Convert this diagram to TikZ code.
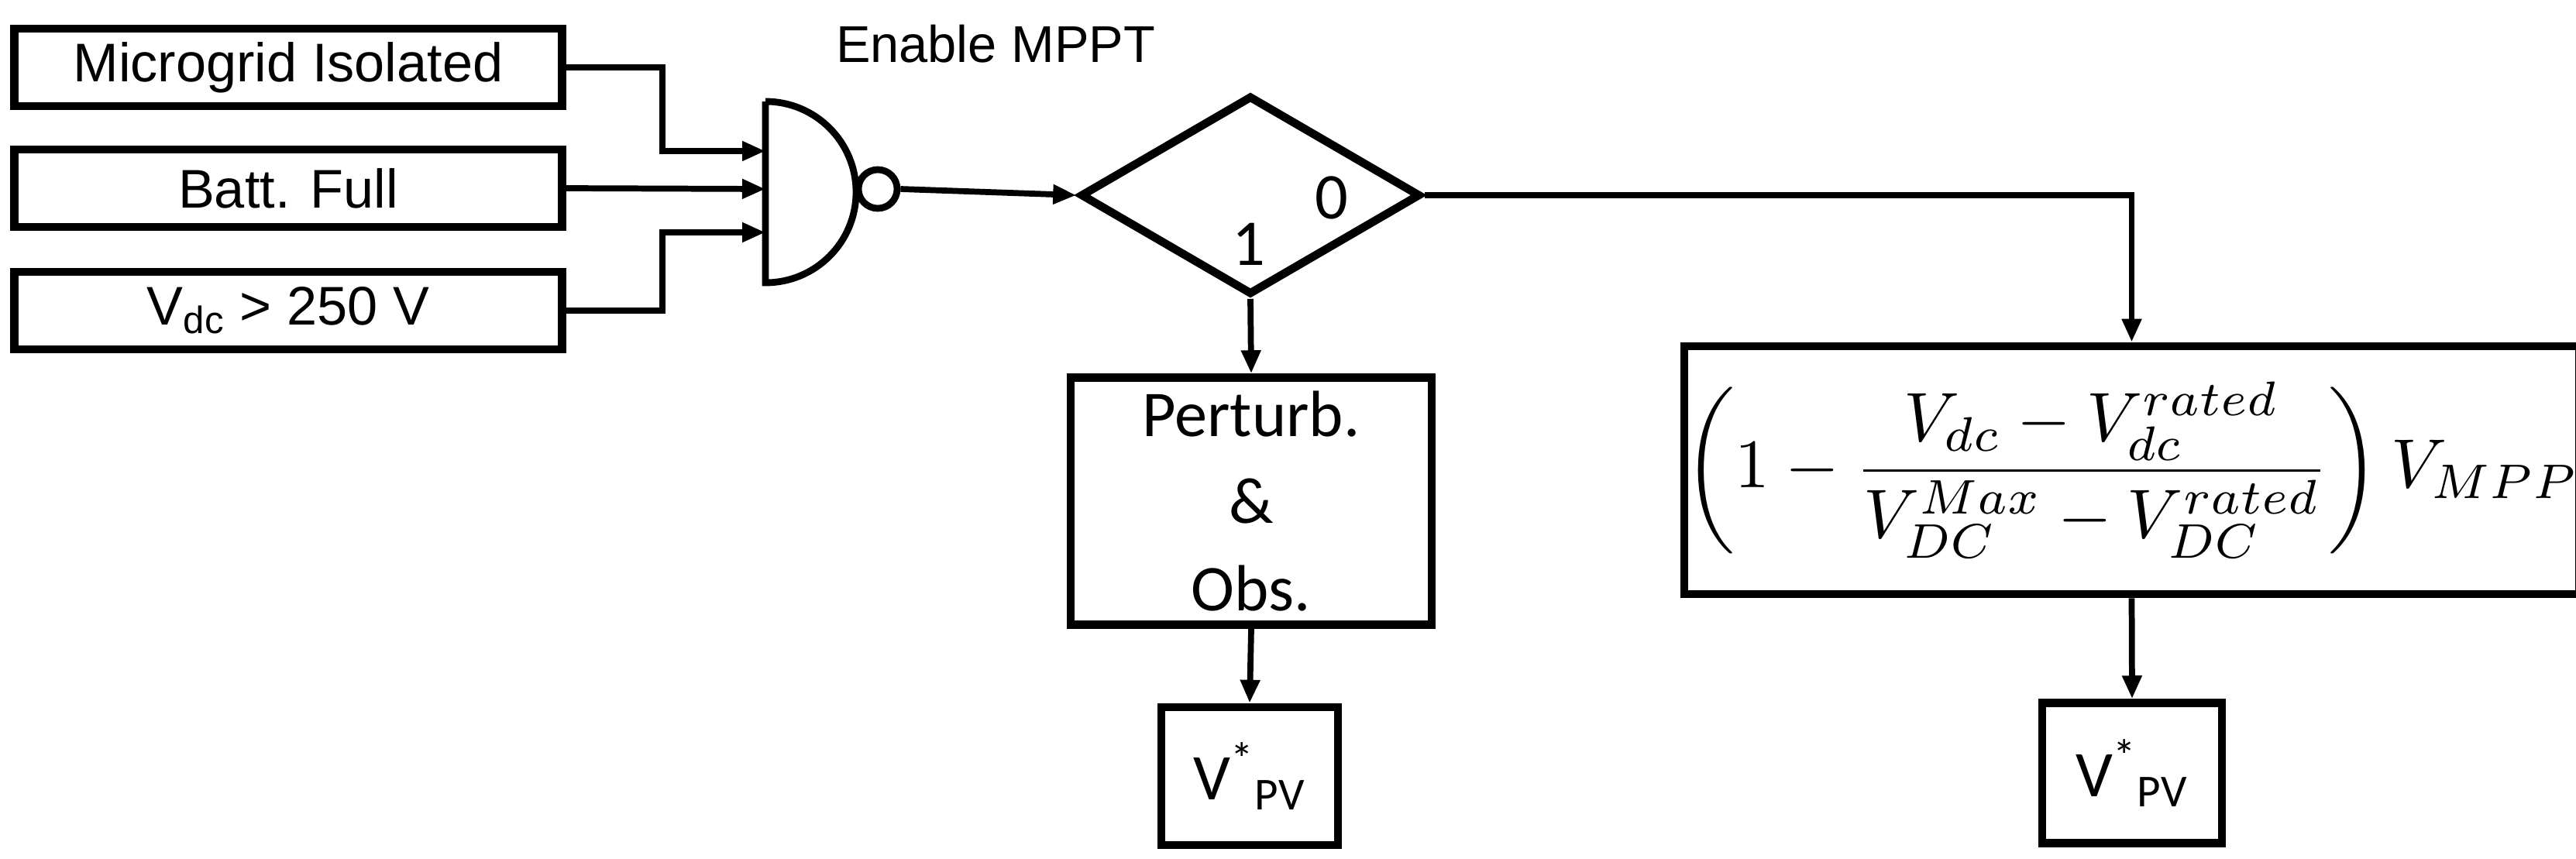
\documentclass[tikz,border=0pt]{standalone}
\usepackage{fontspec}
\setmainfont{Liberation Sans}
\newfontfamily\calib{Carlito}
\usepackage{amsmath}
\usetikzlibrary{positioning,shapes.geometric,arrows.meta}

\begin{document}
\begin{tikzpicture}[>={Triangle[length=0.3cm,width=0.24cm]}, line width=2.2pt,
  inbox/.style={draw, line width=3pt, minimum width=7.07cm, minimum height=1.0cm, font=\fontsize{20}{24}\selectfont},
  blk/.style={draw, line width=3pt, align=center, inner sep=0pt},
  lbl/.style={font=\calib\fontsize{24}{28}\selectfont}
]
\useasboundingbox (0,0) rectangle (33.25,-11.08);

% Inputs
\node[inbox] (iso) at (3.72,-0.87) {Microgrid Isolated};
\node[inbox] (batt) at (3.72,-2.43) {Batt. Full};
\node[inbox] (vdc) at (3.72,-4.01) {V\textsubscript{dc} > 250 V};

% NAND gate
\draw[line width=2.5pt] (9.88,-1.31) -- (9.88,-3.65) arc[start angle=-90, end angle=90, x radius=1.17cm, y radius=1.17cm];
\node[circle, draw, line width=2.5pt, minimum size=0.5cm, inner sep=0pt] (bub) at (11.33,-2.44) {};
\coordinate (g1) at (9.88,-1.95);
\coordinate (g2) at (9.88,-2.44);
\coordinate (g3) at (9.88,-3.00);
\node[font=\fontsize{19}{22}\selectfont] (en) at (12.85,-0.57) {Enable MPPT};

% Switch
\node[diamond, draw, line width=3pt, minimum width=4.39cm, minimum height=2.57cm, inner sep=0pt, aspect=1.7] (sw) at (16.14,-2.52) {};
\node[lbl] (zero) at (17.19,-2.55) {0};
\node[lbl] (one) at (16.12,-3.15) {1};

% Blocks
\node[blk, minimum width=4.66cm, minimum height=3.19cm, lbl] (po) at (16.15,-6.47) {Perturb.\\[4pt]\&\\[4pt]Obs.};
\node[blk, minimum width=2.28cm, minimum height=1.78cm, lbl] (v1) at (16.13,-10.02) {V\textsuperscript{*}\textsubscript{PV}};
\node[blk, minimum width=11.13cm, minimum height=3.2cm] (law) at (27.515,-6.07)
  {\scalebox{2.55}{$\displaystyle\left(1-\frac{V_{dc}-V_{dc}^{rated}}{V_{DC}^{Max}-V_{DC}^{rated}}\right)V_{MPP}$}};
\node[blk, minimum width=2.32cm, minimum height=1.81cm, lbl] (v2) at (27.52,-9.98) {V\textsuperscript{*}\textsubscript{PV}};

% Connectors
\draw[->] (iso.east) -| (8.55,-1.95) -- (g1);
\draw[->] (batt.east) -- (g2);
\draw[->] (vdc.east) -| (8.55,-3.00) -- (g3);
\draw[->] (bub.east) -- (sw.west);
\draw[->] (sw.south) -- (po.north);
\draw[->] (po.south) -- (v1.north);
\draw[->] (sw.east) -| (law.north);
\draw[->] (law.south) -- (v2.north);

\end{tikzpicture}
\end{document}
